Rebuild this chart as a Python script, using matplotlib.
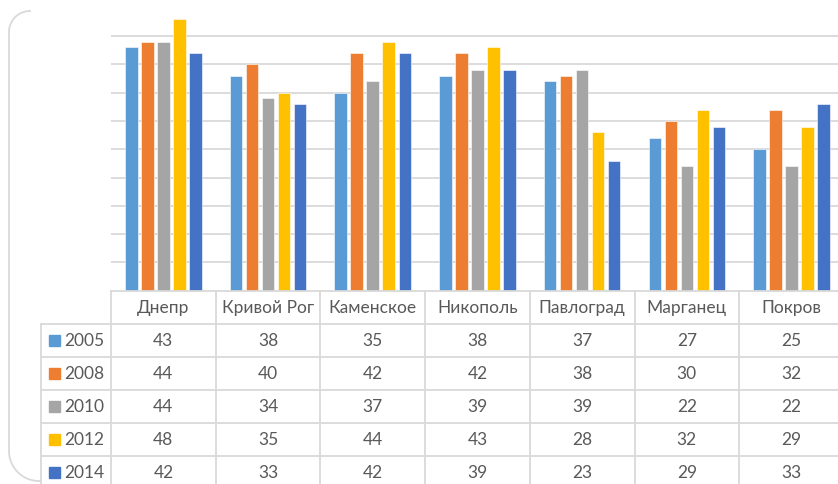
import numpy as np
import matplotlib.pyplot as plt
from matplotlib.patches import Rectangle

cities = ['Днепр', 'Кривой Рог', 'Каменское', 'Никополь', 'Павлоград', 'Марганец', 'Покров']
years = ['2005', '2008', '2010', '2012', '2014']
v2005 = [43, 38, 35, 38, 37, 27, 25]
v2008 = [44, 40, 42, 42, 38, 30, 32]
v2010 = [44, 34, 37, 39, 39, 22, 22]
v2012 = [48, 35, 44, 43, 28, 32, 29]
v2014 = [42, 33, 42, 39, 23, 29, 33]
series = [v2005, v2008, v2010, v2012, v2014]
colors = ['#5B9BD5', '#ED7D31', '#A5A5A5', '#FFC000', '#4472C4']

plt.rcParams['font.family'] = ['Lato', 'DejaVu Sans']
text_col = '#595959'
line_col = '#d9d9d9'

W, H = 838, 485
fig = plt.figure(figsize=(W / 100, H / 100), dpi=100)


def box(left, top, right, bottom):
    # pixel box (y measured from the top) -> figure fraction rect
    return [left / W, 1 - bottom / H, (right - left) / W, (bottom - top) / H]


cat_w = 104.7          # one category column, px
x0 = 111               # left edge of plot / first data column
x_right = x0 + len(cities) * cat_w
base = 291.7           # baseline of the bars
unit = 5.66            # px per value unit
row_h = 33
leg_w = 70             # width of the legend column in the table, px

# --- bars ---
ax = fig.add_axes(box(x0, base - 50 * unit, x_right, base))
x = np.arange(len(cities))
step = 0.153
for i, (vals, col) in enumerate(zip(series, colors)):
    ax.bar(x + (i - 2) * step, vals, width=0.12, color=col,
           edgecolor='white', linewidth=0.4, zorder=3)
ax.set_xlim(-0.5, len(cities) - 0.5)
ax.set_ylim(0, 50)
ax.set_yticks(range(5, 50, 5))
ax.set_xticks([])
ax.yaxis.grid(True, color=line_col, linewidth=1.3)
ax.tick_params(axis='y', length=0, labelleft=False)
for s in ax.spines.values():
    s.set_visible(False)

# --- data table under the chart ---
tab = fig.add_axes(box(x0 - leg_w, base, x_right, base + 6 * row_h))
lx = -0.5 - leg_w / cat_w
tab.set_xlim(lx, len(cities) - 0.5)
tab.set_ylim(6, 0)
tab.axis('off')

lw = 1.3
tab.plot([-0.5, len(cities) - 0.5], [0, 0], color=line_col, lw=lw, clip_on=False)
for r in range(1, 6):
    tab.plot([lx, len(cities) - 0.5], [r, r], color=line_col, lw=lw, clip_on=False)
for k in range(len(cities) + 1):
    tab.plot([k - 0.5, k - 0.5], [0, 6], color=line_col, lw=lw, clip_on=False)
tab.plot([lx, lx], [1, 6], color=line_col, lw=lw, clip_on=False)

fs = 12.5
for j, name in enumerate(cities):
    tab.text(j, 0.5, name, ha='center', va='center', fontsize=fs, color=text_col)
for r, (yr, vals, col) in enumerate(zip(years, series, colors), start=1):
    tab.add_patch(Rectangle((lx + 8 / cat_w, r + 0.5 - 5.5 / row_h), 11 / cat_w, 11 / row_h,
                            color=col, clip_on=False))
    tab.text(lx + 23 / cat_w, r + 0.5, yr, ha='left', va='center', fontsize=fs, color=text_col)
    for j, v in enumerate(vals):
        tab.text(j, r + 0.5, str(v), ha='center', va='center', fontsize=fs, color=text_col)

# --- rounded chart border (only the visible corners / left side) ---
ov = fig.add_axes([0, 0, 1, 1], zorder=-1)
ov.set_xlim(0, W)
ov.set_ylim(H, 0)
ov.axis('off')
t1 = np.radians(np.linspace(90, 180, 30))
t2 = np.radians(np.linspace(180, 270, 30))
left_x = np.concatenate([30 + 21 * np.cos(t1), 39 + 30 * np.cos(t2), [41]])
left_y = np.concatenate([33 - 21 * np.sin(t1), 452 - 30 * np.sin(t2), [482]])
ov.plot(left_x, left_y, color=line_col, lw=1.3)
t3 = np.radians(np.linspace(0, 90, 30))
ov.plot(822 + 22 * np.cos(t3), 34 - 22 * np.sin(t3), color=line_col, lw=1.3)

fig.savefig('out.png', dpi=100)
